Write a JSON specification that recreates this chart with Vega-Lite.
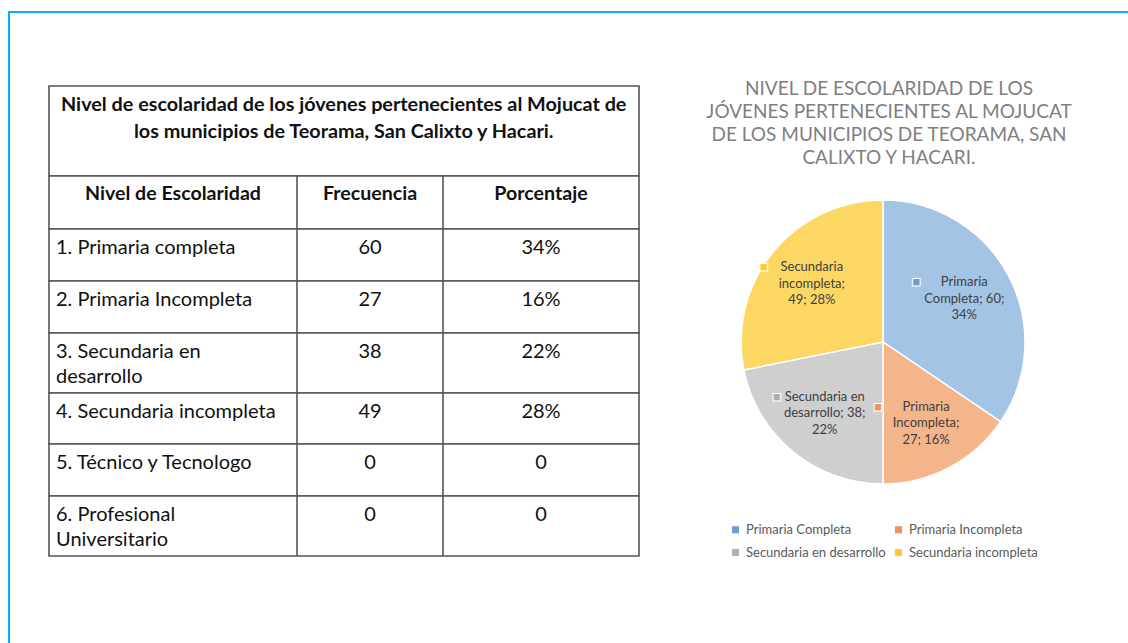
{
  "$schema": "https://vega.github.io/schema/vega-lite/v6.json",
  "padding": {"left": 7, "top": 10, "right": 0, "bottom": 0},
  "background": "white",
  "spacing": -3,
  "resolve": {"scale": {"color": "independent"}, "legend": {"color": "independent"}},
  "config": {"view": {"stroke": null}, "font": "Lato", "legend": {"layout": {"bottom": {"anchor": "middle"}}}},
  "datasets": {
    "tabla": [
      {"fila": 0, "fin": 1, "nivel": "Nivel de escolaridad de los jóvenes pertenecientes al Mojucat de\nlos municipios de Teorama, San Calixto y Hacari.", "frecuencia": "", "porcentaje": ""},
      {"fila": 1, "fin": 2, "nivel": "Nivel de Escolaridad", "frecuencia": "Frecuencia", "porcentaje": "Porcentaje"},
      {"fila": 2, "fin": 3, "nivel": "1. Primaria completa", "frecuencia": "60", "porcentaje": "34%"},
      {"fila": 3, "fin": 4, "nivel": "2. Primaria Incompleta", "frecuencia": "27", "porcentaje": "16%"},
      {"fila": 4, "fin": 5, "nivel": "3. Secundaria en\ndesarrollo", "frecuencia": "38", "porcentaje": "22%"},
      {"fila": 5, "fin": 6, "nivel": "4. Secundaria incompleta", "frecuencia": "49", "porcentaje": "28%"},
      {"fila": 6, "fin": 7, "nivel": "5. Técnico y Tecnologo", "frecuencia": "0", "porcentaje": "0"},
      {"fila": 7, "fin": 8, "nivel": " 6. Profesional\nUniversitario", "frecuencia": "0", "porcentaje": "0"}
    ],
    "columnas": [{"c": 1}, {"c": 2}],
    "titulo": [{"texto": "NIVEL DE ESCOLARIDAD DE LOS\nJÓVENES PERTENECIENTES AL MOJUCAT\nDE LOS MUNICIPIOS DE TEORAMA, SAN\nCALIXTO Y HACARI."}],
    "pastel": [
      {"nivel": "Primaria Completa", "frecuencia": 60, "etiqueta": "Primaria\nCompleta; 60;\n34%"},
      {"nivel": "Primaria Incompleta", "frecuencia": 27, "etiqueta": "Primaria\nIncompleta;\n27; 16%"},
      {"nivel": "Secundaria en desarrollo", "frecuencia": 38, "etiqueta": "Secundaria en\ndesarrollo; 38;\n22%"},
      {"nivel": "Secundaria incompleta", "frecuencia": 49, "etiqueta": "Secundaria\nincompleta;\n49; 28%"}
    ]
  },
  "hconcat": [
    {
      "width": 640,
      "height": 630,
      "view": {"stroke": "#00B0F0", "strokeWidth": 2, "strokeDash": [640, 1270, 630], "strokeCap": "square"},
      "data": {"name": "tabla"},
      "layer": [
        {
          "mark": {"type": "rect", "fill": "white", "stroke": "#555555", "strokeWidth": 1.6},
          "encoding": {
            "x": {"datum": 0, "scale": {"domain": [0, 1, 2, 3], "range": [40, 288, 434, 630], "zero": false, "nice": false}, "axis": null},
            "x2": {"datum": 3},
            "y": {"field": "fila", "type": "quantitative", "scale": {"domain": [0, 1, 2, 3, 4, 5, 6, 7, 8], "range": [74, 164, 217, 269, 321, 381, 432, 484, 544], "zero": false, "nice": false}, "axis": null},
            "y2": {"field": "fin"}
          }
        },
        {
          "data": {"name": "columnas"},
          "mark": {"type": "rule", "stroke": "#555555", "strokeWidth": 1.6},
          "encoding": {
            "x": {"field": "c", "type": "quantitative", "axis": null},
            "y": {"datum": 1, "axis": null},
            "y2": {"datum": 8}
          }
        },
        {
          "transform": [{"filter": "datum.fila == 0"}],
          "mark": {"type": "text", "fontWeight": "bold", "fontSize": 19.8, "align": "center", "baseline": "top", "dy": 9, "lineBreak": "\n", "lineHeight": 27, "color": "#111111"},
          "encoding": {
            "x": {"datum": 1.32, "axis": null},
            "y": {"field": "fila", "type": "quantitative", "axis": null},
            "text": {"field": "nivel"}
          }
        },
        {
          "transform": [{"filter": "datum.fila == 1"}],
          "mark": {"type": "text", "fontWeight": "bold", "fontSize": 19.6, "align": "center", "baseline": "top", "dy": 9, "color": "#111111"},
          "encoding": {
            "x": {"datum": 0.5, "axis": null},
            "y": {"field": "fila", "type": "quantitative", "axis": null},
            "text": {"field": "nivel"}
          }
        },
        {
          "transform": [{"filter": "datum.fila == 1"}],
          "mark": {"type": "text", "fontWeight": "bold", "fontSize": 19.6, "align": "center", "baseline": "top", "dy": 9, "color": "#111111"},
          "encoding": {
            "x": {"datum": 1.5, "axis": null},
            "y": {"field": "fila", "type": "quantitative", "axis": null},
            "text": {"field": "frecuencia"}
          }
        },
        {
          "transform": [{"filter": "datum.fila == 1"}],
          "mark": {"type": "text", "fontWeight": "bold", "fontSize": 19.6, "align": "center", "baseline": "top", "dy": 9, "color": "#111111"},
          "encoding": {
            "x": {"datum": 2.5, "axis": null},
            "y": {"field": "fila", "type": "quantitative", "axis": null},
            "text": {"field": "porcentaje"}
          }
        },
        {
          "transform": [{"filter": "datum.fila >= 2"}],
          "mark": {"type": "text", "fontSize": 20, "align": "left", "baseline": "top", "dx": 7, "dy": 9, "lineBreak": "\n", "lineHeight": 25, "color": "#111111"},
          "encoding": {
            "x": {"datum": 0, "axis": null},
            "y": {"field": "fila", "type": "quantitative", "axis": null},
            "text": {"field": "nivel"}
          }
        },
        {
          "transform": [{"filter": "datum.fila >= 2"}],
          "mark": {"type": "text", "fontSize": 20, "align": "center", "baseline": "top", "dy": 9, "color": "#111111"},
          "encoding": {
            "x": {"datum": 1.5, "axis": null},
            "y": {"field": "fila", "type": "quantitative", "axis": null},
            "text": {"field": "frecuencia"}
          }
        },
        {
          "transform": [{"filter": "datum.fila >= 2"}],
          "mark": {"type": "text", "fontSize": 20, "align": "center", "baseline": "top", "dy": 9, "color": "#111111"},
          "encoding": {
            "x": {"datum": 2.5, "axis": null},
            "y": {"field": "fila", "type": "quantitative", "axis": null},
            "text": {"field": "porcentaje"}
          }
        }
      ]
    },
    {
      "spacing": 0,
      "resolve": {"scale": {"color": "independent"}, "legend": {"color": "independent"}},
      "vconcat": [
        {
          "width": 476,
          "height": 183,
          "view": {"stroke": "#00B0F0", "strokeWidth": 2, "strokeDash": [476, 2000], "strokeCap": "square"},
          "data": {"name": "titulo"},
          "mark": {"type": "text", "fontSize": 19, "color": "#7F7F7F", "lineBreak": "\n", "lineHeight": 23, "align": "center", "baseline": "middle", "dy": -14.5},
          "encoding": {"text": {"field": "texto"}}
        },
        {
          "width": 464,
          "height": 284,
          "data": {"name": "pastel"},
          "resolve": {"scale": {"color": "independent"}, "legend": {"color": "independent"}},
          "layer": [
            {
              "mark": {"type": "arc", "stroke": "white", "strokeWidth": 1.5},
              "encoding": {
                "theta": {"field": "frecuencia", "type": "quantitative", "stack": true},
                "order": {"field": "nivel", "sort": "ascending"},
                "color": {
                  "field": "nivel",
                  "type": "nominal",
                  "scale": {
                    "domain": ["Primaria Completa", "Primaria Incompleta", "Secundaria en desarrollo", "Secundaria incompleta"],
                    "range": ["#A4C4E6", "#F4B58A", "#CFCFCF", "#FDD764"]
                  },
                  "legend": null
                }
              }
            },
            {
              "mark": {"type": "text", "radius": 92, "fontSize": 13, "color": "#404040", "lineBreak": "\n", "lineHeight": 16.5, "align": "center", "baseline": "middle", "dy": -16.5},
              "encoding": {
                "theta": {"field": "frecuencia", "type": "quantitative", "stack": true},
                "order": {"field": "nivel", "sort": "ascending"},
                "text": {"field": "etiqueta"}
              }
            },
            {
              "mark": {"type": "text", "radius": 92, "font": "DejaVu Sans", "fontSize": 10, "stroke": "white", "strokeWidth": 1, "align": "center", "baseline": "middle", "dx": -48, "dy": -16.5},
              "encoding": {
                "theta": {"field": "frecuencia", "type": "quantitative", "stack": true},
                "order": {"field": "nivel", "sort": "ascending"},
                "color": {
                  "field": "nivel",
                  "type": "nominal",
                  "scale": {
                    "domain": ["Primaria Completa", "Primaria Incompleta", "Secundaria en desarrollo", "Secundaria incompleta"],
                    "range": ["#6A9FD6", "#EF9260", "#AFAFAF", "#FFC933"]
                  },
                  "legend": {
                    "title": null,
                    "orient": "bottom",
                    "direction": "horizontal",
                    "columns": 2,
                    "symbolType": "square",
                    "symbolSize": 50,
                    "symbolStrokeWidth": 0,
                    "labelFontSize": 13,
                    "labelColor": "#595959",
                    "labelFont": "Lato",
                    "columnPadding": 6,
                    "rowPadding": 9,
                    "offset": 39
                  }
                },
                "text": {"value": "■"}
              }
            }
          ]
        }
      ]
    }
  ]
}
